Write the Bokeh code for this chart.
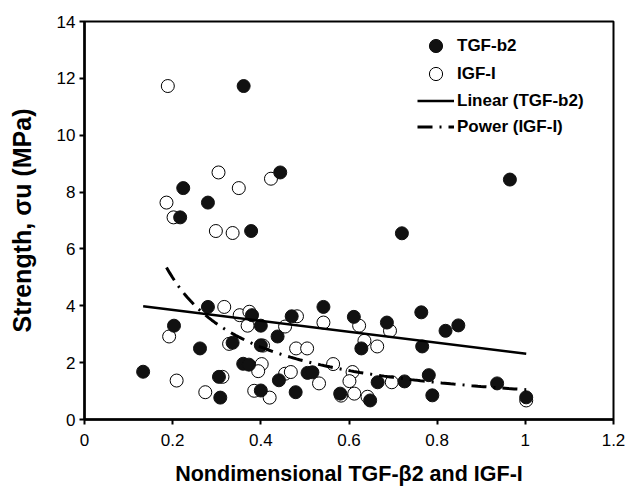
import numpy as np
from bokeh.plotting import figure
from bokeh.models import Range1d, FixedTicker, Legend, LegendItem
from bokeh.embed import file_html
from bokeh.resources import INLINE

# TGF-b2 (filled markers)
tgf_x = [0.361, 0.444, 0.224, 0.280, 0.217, 0.378, 0.720, 0.965,
         0.280, 0.380, 0.400, 0.203, 0.438, 0.470, 0.542, 0.611,
         0.686, 0.764, 0.819, 0.848, 0.628, 0.766, 0.262, 0.336,
         0.400, 0.133, 0.360, 0.373, 0.305, 0.441, 0.506, 0.517,
         0.308, 0.400, 0.479, 0.580, 0.665, 0.726, 0.781, 0.789,
         0.648, 0.936, 1.002]
tgf_y = [11.73, 8.69, 8.14, 7.63, 7.11, 6.63, 6.55, 8.44,
         3.96, 3.67, 3.30, 3.30, 2.92, 3.63, 3.96, 3.61,
         3.41, 3.77, 3.12, 3.31, 2.50, 2.57, 2.50, 2.70,
         2.61, 1.68, 1.96, 1.93, 1.50, 1.38, 1.64, 1.66,
         0.77, 1.02, 0.96, 0.91, 1.31, 1.34, 1.56, 0.85,
         0.67, 1.27, 0.78]

# IGF-I (open markers)
igf_x = [0.189, 0.304, 0.423, 0.350, 0.186, 0.202, 0.298, 0.336,
         0.317, 0.352, 0.374, 0.370, 0.192, 0.455, 0.482, 0.542,
         0.623, 0.693, 0.635, 0.664, 0.328, 0.405, 0.480, 0.505,
         0.402, 0.394, 0.209, 0.313, 0.455, 0.468, 0.532, 0.564,
         0.608, 0.601, 0.697, 0.274, 0.385, 0.420, 0.582, 0.612,
         0.642, 1.002]
igf_y = [11.73, 8.69, 8.47, 8.14, 7.63, 7.11, 6.63, 6.56,
         3.96, 3.67, 3.79, 3.30, 2.92, 3.27, 3.63, 3.41,
         3.30, 3.12, 2.77, 2.57, 2.66, 2.60, 2.50, 2.50,
         1.95, 1.70, 1.37, 1.50, 1.61, 1.67, 1.27, 1.95,
         1.67, 1.35, 1.31, 0.96, 1.01, 0.77, 0.84, 0.91,
         0.80, 0.67]

# Trendline coefficients
linear_slope = -1.915
linear_intercept = 4.235
power_coef = 1.05
power_exp = -0.968

x_ticks = [0, 0.2, 0.4, 0.6, 0.8, 1.0, 1.2]
x_tick_labels = ["0", "0.2", "0.4", "0.6", "0.8", "1", "1.2"]
y_ticks = [0, 2, 4, 6, 8, 10, 12, 14]
legend_labels = ["TGF-b2", "IGF-I", "Linear (TGF-b2)", "Power (IGF-I)"]
x_title = "Nondimensional TGF-\u03b22 and IGF-I"
y_title = "Strength, \u03c3u (MPa)"

FONT = "Liberation Sans"

p = figure(width=628, height=488, output_backend="svg", toolbar_location=None,
           x_range=Range1d(0, 1.2), y_range=Range1d(0, 14),
           min_border_left=84, min_border_right=15, min_border_top=21,
           min_border_bottom=68, background_fill_color="white",
           border_fill_color="white")
p.xgrid.visible = False
p.ygrid.visible = False
p.outline_line_color = "black"
p.outline_line_width = 2

for ax in (p.xaxis[0], p.yaxis[0]):
    ax.axis_line_width = 2.5
    ax.axis_line_color = "black"
    ax.major_tick_line_width = 2
    ax.major_tick_line_color = "black"
    ax.major_tick_in = 0
    ax.major_tick_out = 5
    ax.minor_tick_line_color = None
    ax.major_label_text_font = FONT
    ax.major_label_text_font_size = "17px"
    ax.major_label_text_color = "black"
    ax.axis_label_text_font = FONT
    ax.axis_label_text_font_style = "bold"
    ax.axis_label_text_color = "black"

p.xaxis.ticker = FixedTicker(ticks=x_ticks)
p.xaxis.major_label_overrides = {t: l for t, l in zip(x_ticks, x_tick_labels)}
p.yaxis.ticker = FixedTicker(ticks=y_ticks)
p.xaxis.major_label_standoff = 9
p.yaxis.major_label_standoff = 4
p.xaxis.axis_label = x_title
p.yaxis.axis_label = y_title
p.xaxis.axis_label_text_font_size = "21.5px"
p.yaxis.axis_label_text_font_size = "25px"
p.xaxis.axis_label_standoff = 13
p.yaxis.axis_label_standoff = 18

r_igf = p.scatter(igf_x, igf_y, size=13, marker="circle", fill_color="white",
                  line_color="black", line_width=1)
r_tgf = p.scatter(tgf_x, tgf_y, size=13, marker="circle", fill_color="#111111",
                  line_color="#111111", line_width=1)

lx = np.array([min(tgf_x), max(tgf_x)])
r_lin = p.line(lx, linear_slope * lx + linear_intercept, line_color="black",
               line_width=2.5)

px = np.linspace(min(igf_x), max(igf_x), 120)
r_pow = p.line(px, power_coef * px ** power_exp, line_color="black",
               line_width=3, line_dash="15 7 2 7")

# one legend per entry so the rows can sit closer than the marker box
legend_bottoms = [357, 329, 302, 276]
for label, rend, yb in zip(legend_labels, [r_tgf, r_igf, r_lin, r_pow],
                           legend_bottoms):
    lg = Legend(items=[LegendItem(label=label, renderers=[rend])],
                location=(333, yb), orientation="vertical", glyph_width=37,
                glyph_height=33, spacing=0, padding=0, margin=0,
                label_standoff=3, border_line_color=None,
                background_fill_alpha=0, label_text_font=FONT,
                label_text_font_style="bold", label_text_font_size="17px",
                label_text_color="black")
    p.add_layout(lg)

open("out.html", "w").write(file_html(p, INLINE))
